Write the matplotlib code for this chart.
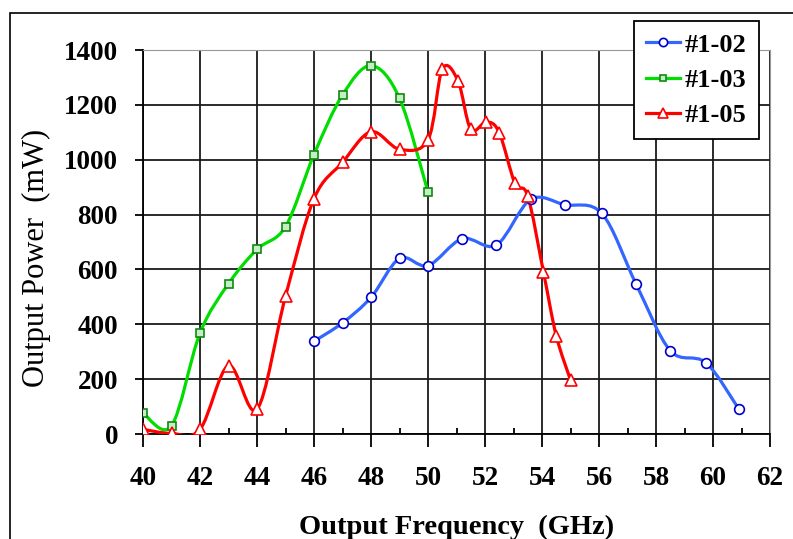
import numpy as np
import matplotlib.pyplot as plt
from matplotlib.path import Path
from matplotlib.patches import PathPatch, Rectangle
from matplotlib.lines import Line2D

# Data
freq_102 = [46, 47, 48, 49, 50, 51.2, 52.4, 53.6, 54.8, 56.1, 57.3, 58.5, 59.75, 60.9]
power_102 = [338, 405, 498, 640, 614, 712, 689, 855, 836, 804, 547, 304, 260, 92]

freq_103 = [40, 41, 42, 43, 44, 45, 46, 47, 48, 49, 50]
power_103 = [76, 30, 368, 548, 673, 756, 1019, 1236, 1343, 1224, 882]

freq_105 = [40, 41, 42, 43, 44, 45, 46, 47, 48, 49, 50, 50.5, 51.05, 51.5,
            52.05, 52.5, 53.05, 53.5, 54.05, 54.5, 55]
power_105 = [17, 2, 17, 249, 90, 502, 858, 990, 1102, 1038, 1072, 1330, 1288, 1111,
             1138, 1099, 914, 868, 591, 358, 197]

plt.rcParams['font.family'] = ['Liberation Serif', 'DejaVu Serif']


def smooth_path(x, y):
    """Excel-style smoothed line: cubic Bezier through every point."""
    x = np.asarray(x, float)
    y = np.asarray(y, float)
    n = len(x)
    verts = [(x[0], y[0])]
    codes = [Path.MOVETO]
    for i in range(n - 1):
        i0 = max(i - 1, 0)
        i3 = min(i + 2, n - 1)
        c1 = (x[i] + (x[i + 1] - x[i0]) / 6, y[i] + (y[i + 1] - y[i0]) / 6)
        c2 = (x[i + 1] - (x[i3] - x[i]) / 6, y[i + 1] - (y[i3] - y[i]) / 6)
        verts += [c1, c2, (x[i + 1], y[i + 1])]
        codes += [Path.CURVE4] * 3
    return Path(verts, codes)


fig = plt.figure(figsize=(7.93, 5.39), dpi=100)
ax = fig.add_axes([143 / 793, 1 - 434 / 539, 627 / 793, 384 / 539])

# outer chart border
fig.patches.append(Rectangle((10 / 793, -0.05), 1.0, 1 - 12.5 / 539 + 0.05,
                             transform=fig.transFigure, fill=False,
                             edgecolor='black', linewidth=1.2))

series = [
    (freq_102, power_102, '#3366ff', 'o', '#1-02', '#0000cc', 7),
    (freq_103, power_103, '#00dd00', 's', '#1-03', '#118811', 5.5),
    (freq_105, power_105, '#ff0000', '^', '#1-05', '#ff0000', 8),
]
handles = []
for fx, py, col, mk, lab, mec, ms in series:
    fc = '#c4eec4' if mk == 's' else 'white'
    ax.add_patch(PathPatch(smooth_path(fx, py), facecolor='none',
                           edgecolor=col, linewidth=2.3, zorder=3))
    ax.plot(fx, py, linestyle='none', marker=mk, markersize=ms,
            markerfacecolor=fc, markeredgecolor=mec, markeredgewidth=1.2,
            zorder=4)
    handles.append(Line2D([], [], color=col, linewidth=2.3, marker=mk,
                          markersize=ms * 0.85, markerfacecolor=fc,
                          markeredgecolor=mec, markeredgewidth=1.2, label=lab))

ax.set_xlim(40, 62)
ax.set_ylim(0, 1400)
ax.set_xticks(np.arange(40, 63, 2))
ax.set_xticks(np.arange(41, 62, 2), minor=True)
ax.set_yticks(np.arange(0, 1401, 200))
ax.grid(True, which='major', color='#1a1a1a', linewidth=1.3)
ax.set_axisbelow(True)
ax.tick_params(axis='x', which='major', labelsize=19.5, length=9,
               width=1.3, direction='out', pad=14)
ax.tick_params(axis='y', which='major', labelsize=19.5, length=6,
               width=1.3, direction='out', pad=12)
ax.tick_params(axis='x', which='minor', length=4, width=1.3, direction='in')
for lbl in ax.get_xticklabels() + ax.get_yticklabels():
    lbl.set_fontweight('bold')
for side in ['top', 'right']:
    ax.spines[side].set_color('#999999')
for side in ['left', 'bottom']:
    ax.spines[side].set_color('black')
    ax.spines[side].set_linewidth(1.3)

ax.set_xlabel('Output Frequency  (GHz)', fontsize=20.5, fontweight='bold',
              labelpad=17)
ax.set_ylabel('Output Power  (mW)', fontsize=22, fontweight='normal')
ax.yaxis.set_label_coords(-0.146, 0.458)

leg = ax.legend(handles=handles, loc='upper right',
                bbox_to_anchor=(0.982, 1.075), borderaxespad=0,
                prop={'size': 19, 'weight': 'bold'}, frameon=True,
                fancybox=False, edgecolor='black', framealpha=1,
                handlelength=1.3, handletextpad=0.2, labelspacing=0.45,
                borderpad=0.45)
leg.get_frame().set_linewidth(1.3)

fig.savefig('out.png', dpi=100)
